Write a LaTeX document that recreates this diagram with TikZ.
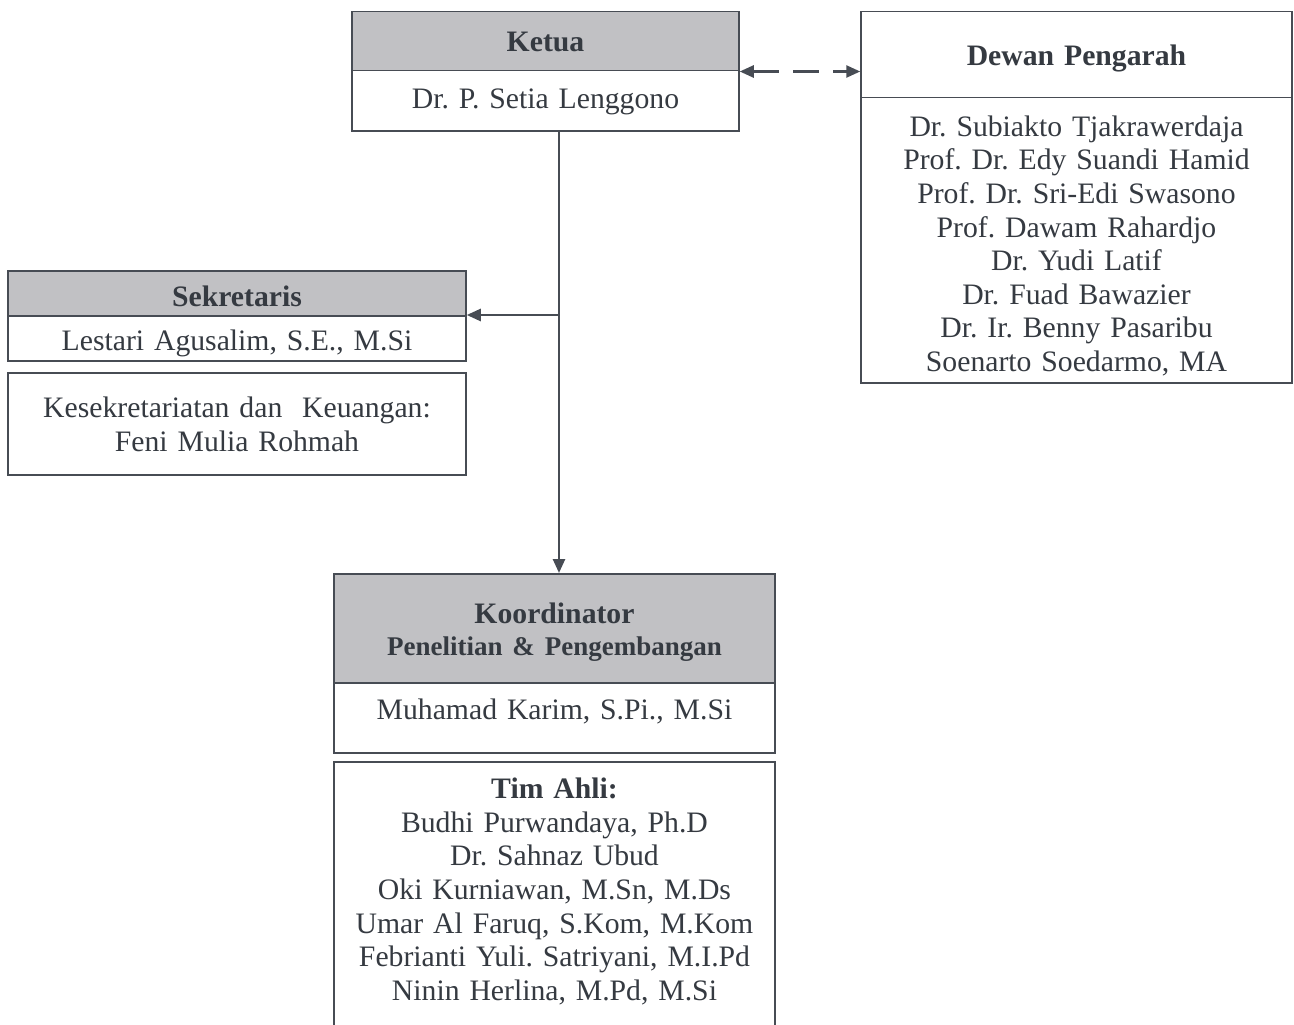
\documentclass[tikz,border=0pt]{standalone}
\usepackage{fontspec}
\setmainfont{Liberation Serif}
\usetikzlibrary{arrows.meta,calc}
\definecolor{linec}{HTML}{474C54}
\definecolor{txtc}{HTML}{353A41}
\definecolor{headc}{HTML}{C1C1C4}
\frenchspacing
\tikzset{
  box/.style={draw=linec, line width=1.5pt, rectangle, inner sep=0pt, text=txtc, align=center,
    anchor=north, font=\fontsize{29.7}{33.6}\selectfont},
  headbox/.style={box, fill=headc, font=\fontsize{29.7}{33.6}\selectfont\bfseries},
  plainhead/.style={box, font=\fontsize{29.7}{33.6}\selectfont\bfseries},
  conn/.style={draw=linec, line width=2.5pt, -{Triangle[length=14pt,width=12pt]}},
  dconn/.style={draw=linec, line width=2.5pt, {Triangle[length=14pt,width=12pt]}-{Triangle[length=14pt,width=12pt]}, dash pattern=on 26pt off 14pt}
}
\begin{document}
\begin{tikzpicture}[x=1pt,y=-1pt]
\clip (0,0) rectangle (1294,1025);
\fill[white] (0,0) rectangle (1294,1025);
% Ketua
\node[headbox, text width=387pt, text height=40pt, text depth=19pt] (ketuaH) at (545.5,11) {Ketua};
\node[box, text width=387pt, text height=38pt, text depth=22pt] (ketuaB) at (545.5,70) {Dr. P. Setia Lenggono};
% Dewan Pengarah
\node[plainhead, text width=431pt, text height=54pt, text depth=32pt] (dewanH) at (1076.5,11) {Dewan Pengarah};
\node[box, text width=431pt, text height=38.5pt, text depth=246.5pt] (dewanB) at (1076.5,97) {Dr. Subiakto Tjakrawerdaja\\Prof. Dr. Edy Suandi Hamid\\Prof. Dr. Sri-Edi Swasono\\Prof. Dawam Rahardjo\\Dr. Yudi Latif\\Dr. Fuad Bawazier\\Dr. Ir. Benny Pasaribu\\Soenarto Soedarmo, MA};
% Sekretaris
\node[headbox, text width=458pt, text height=36pt, text depth=9pt] (sekH) at (237,270) {Sekretaris};
\node[box, text width=458pt, text height=35pt, text depth=10pt] (sekB) at (237,315) {Lestari Agusalim, S.E., M.Si};
\node[box, text width=458pt, text height=45pt, text depth=57pt] (kes) at (237,372) {Kesekretariatan dan\ \ Keuangan:\\Feni Mulia Rohmah};
% Koordinator
\node[headbox, text width=441pt, text height=50pt, text depth=59pt] (koordH) at (554.5,573) {Koordinator\\[-1.6pt]{\fontsize{27}{32}\selectfont Penelitian \& Pengembangan}};
\node[box, text width=441pt, text height=37pt, text depth=33pt] (koordB) at (554.5,682) {Muhamad Karim, S.Pi., M.Si};
% Tim Ahli
\node[box, text width=441pt, text height=37pt, text depth=320pt] (tim) at (554.5,761) {\textbf{Tim Ahli:}\\Budhi Purwandaya, Ph.D\\Dr. Sahnaz Ubud\\Oki Kurniawan, M.Sn, M.Ds\\Umar Al Faruq, S.Kom, M.Kom\\Febrianti Yuli. Satriyani, M.I.Pd\\Ninin Herlina, M.Pd, M.Si};
% connectors
\coordinate (j) at (559,315);
\draw[conn] (ketuaB.south -| j) -- (koordH.north -| j);
\draw[conn] (j) -- (j -| sekH.east);
\draw[dconn] (ketuaH.south east) -- (ketuaH.south east -| dewanH.west);
\end{tikzpicture}
\end{document}
